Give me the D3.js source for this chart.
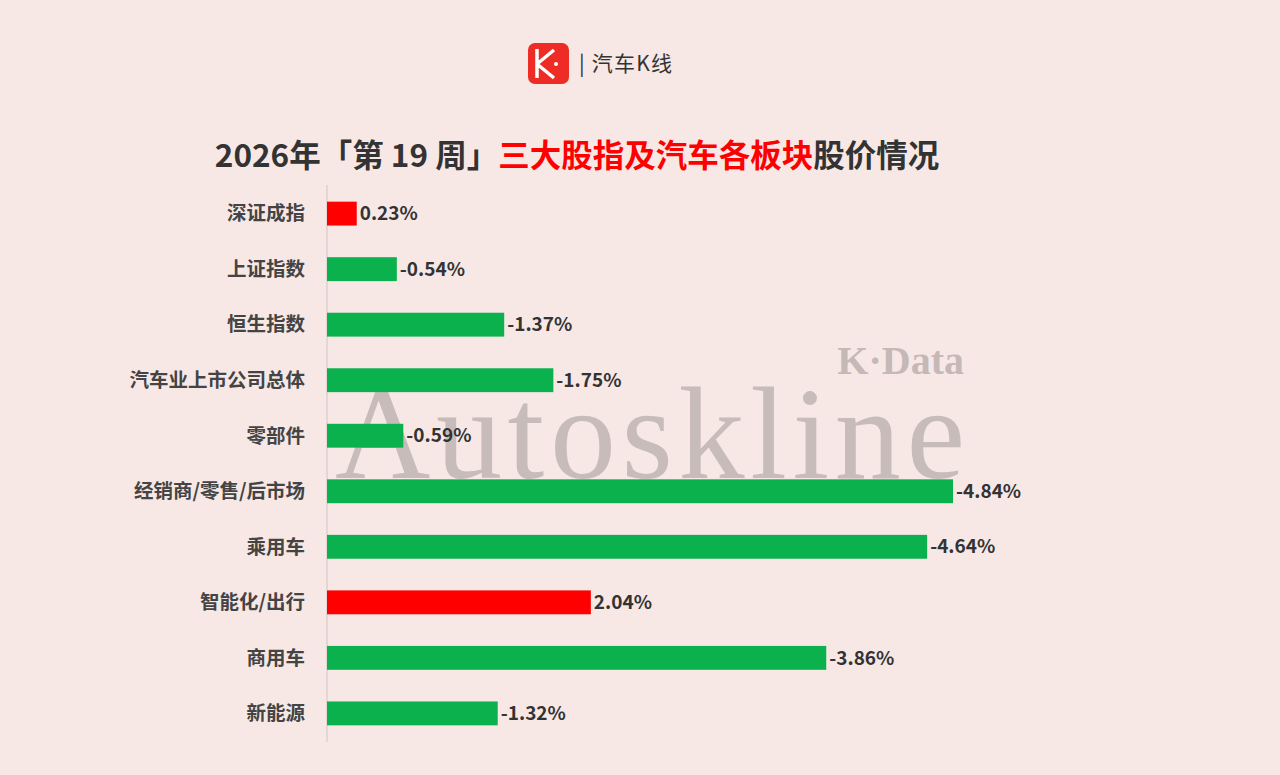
<!DOCTYPE html>
<html><head><meta charset="utf-8">
<script src="https://cdn.jsdelivr.net/npm/d3@7"></script>
<style>body{margin:0;background:#f7e8e6;}</style>
</head><body>
<svg id="c" width="1280" height="775"></svg>
<script>
const categories = ["深证成指","上证指数","恒生指数","汽车业上市公司总体","零部件","经销商/零售/后市场","乘用车","智能化/出行","商用车","新能源"];
const values = [0.23,-0.54,-1.37,-1.75,-0.59,-4.84,-4.64,2.04,-3.86,-1.32];

const svg = d3.select("#c");
const font = "'Noto Sans CJK SC', sans-serif";
svg.append("rect").attr("width",1280).attr("height",775).attr("fill","#f7e8e6");

// logo
const lg = svg.append("g").attr("transform","translate(528,43)");
lg.append("rect").attr("width",41).attr("height",41).attr("rx",7).attr("fill","#ee2b24");
lg.append("path").attr("d","M9,6 L9,35 M9,21 L26,7 M9,21 L26,35").attr("stroke","#fff").attr("stroke-width",3.5).attr("fill","none");
lg.append("circle").attr("cx",28).attr("cy",21).attr("r",2).attr("fill","#fff");
svg.append("text").attr("x",579).attr("y",71).attr("font-family",font).attr("font-size",21).attr("fill","#333")
  .attr("textLength",93).text("| 汽车K线");

// title
const t = svg.append("text").attr("x",577).attr("y",167).attr("text-anchor","middle")
  .attr("font-family",font).attr("font-size",31.5).attr("font-weight","bold").attr("fill","#333");
t.append("tspan").text("2026年「第 19 周」");
t.append("tspan").attr("fill","#ff0000").text("三大股指及汽车各板块");
t.append("tspan").text("股价情况");

// watermark
svg.append("text").attr("x",335).attr("y",478).attr("font-family","'Liberation Serif', serif")
  .attr("font-size",132).attr("fill","#b8aeac").attr("opacity",0.75).attr("textLength",630).text("Autoskline");
svg.append("text").attr("x",964).attr("y",374).attr("text-anchor","end").attr("font-family","'Liberation Serif', serif")
  .attr("font-size",40).attr("font-weight","bold").attr("fill","#b8aeac").attr("opacity",0.8).text("K·Data");

const x = d3.scaleLinear().domain([0,4.84]).range([327,953]);
const y = d3.scaleBand().domain(categories).range([185,742]).paddingInner(0.57).paddingOuter(0.3);

svg.append("line").attr("x1",327).attr("x2",327).attr("y1",185).attr("y2",742).attr("stroke","#cfc5c3");

svg.selectAll(".bar").data(categories).enter().append("rect")
  .attr("x",x(0)).attr("y",d=>y(d)).attr("height",y.bandwidth())
  .attr("width",(d,i)=>x(Math.abs(values[i]))-x(0))
  .attr("fill",(d,i)=>values[i]>=0?"#ff0000":"#0bb14c");

svg.selectAll(".cat").data(categories).enter().append("text")
  .attr("x",305).attr("y",d=>y(d)+y.bandwidth()/2).attr("dy","0.35em").attr("text-anchor","end")
  .attr("font-family",font).attr("font-size",19.5).attr("font-weight","bold").attr("fill","#444").text(d=>d);

svg.selectAll(".val").data(categories).enter().append("text")
  .attr("x",(d,i)=>x(Math.abs(values[i]))+3).attr("y",d=>y(d)+y.bandwidth()/2).attr("dy","0.35em")
  .attr("font-family",font).attr("font-size",19).attr("font-weight","bold").attr("fill","#333")
  .text((d,i)=>values[i].toFixed(2)+"%");
</script>
</body></html>
